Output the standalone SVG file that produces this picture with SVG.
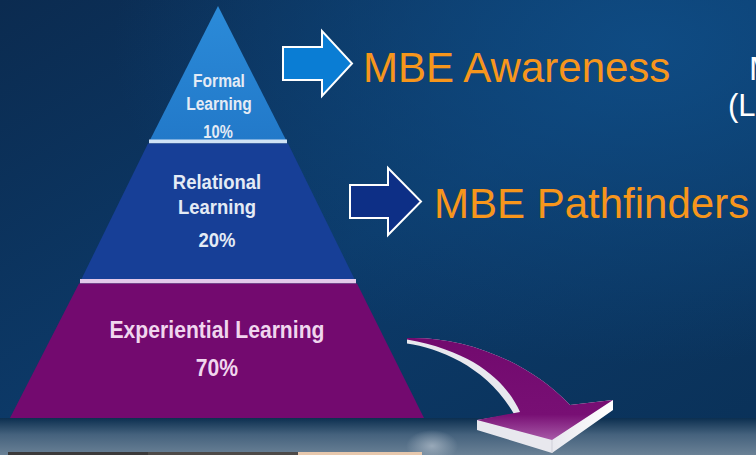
<svg xmlns="http://www.w3.org/2000/svg" width="756" height="455" viewBox="0 0 756 455">
  <defs>
    <linearGradient id="bg" x1="0" y1="0" x2="1" y2="1">
      <stop offset="0" stop-color="#0b2b50"/>
      <stop offset="0.5" stop-color="#0c3a69"/>
      <stop offset="1" stop-color="#0a3158"/>
    </linearGradient>
    <radialGradient id="glow" cx="0.85" cy="0.1" r="0.7">
      <stop offset="0" stop-color="#0f4d86" stop-opacity="0.9"/>
      <stop offset="1" stop-color="#0f4d86" stop-opacity="0"/>
    </radialGradient>
    <linearGradient id="floor" x1="0" y1="0" x2="0" y2="1">
      <stop offset="0" stop-color="#0c2f50"/>
      <stop offset="0.45" stop-color="#45627d"/>
      <stop offset="1" stop-color="#6a8196"/>
    </linearGradient>
    <radialGradient id="spot" cx="0.5" cy="0.5" r="0.5">
      <stop offset="0" stop-color="#a8b6c4" stop-opacity="0.8"/>
      <stop offset="1" stop-color="#a8b6c4" stop-opacity="0"/>
    </radialGradient>
    <linearGradient id="t1" x1="0" y1="0" x2="0" y2="1">
      <stop offset="0" stop-color="#2b8bd9"/>
      <stop offset="1" stop-color="#2279c9"/>
    </linearGradient>
    <linearGradient id="head" gradientUnits="userSpaceOnUse" x1="0" y1="338" x2="0" y2="440">
      <stop offset="0" stop-color="#720a6e"/>
      <stop offset="0.75" stop-color="#780f74"/>
      <stop offset="1" stop-color="#a85aa8"/>
    </linearGradient>
    <linearGradient id="side" gradientUnits="userSpaceOnUse" x1="552" y1="0" x2="613" y2="0">
      <stop offset="0" stop-color="#e8e8ee"/>
      <stop offset="1" stop-color="#ffffff"/>
    </linearGradient>
    <style>
      .tier { font-family: "Liberation Sans", Arial, sans-serif; font-weight: bold; text-anchor: middle; }
      .blue { fill: #e4ebf5; }
      .pink { fill: #f0d6ee; }
      .big { font-family: "Liberation Sans", Arial, sans-serif; font-size: 42px; fill: #f7961c; }
      .edge { font-family: "Liberation Sans", Arial, sans-serif; fill: #ffffff; }
      .block { stroke: #ffffff; stroke-width: 2; stroke-linejoin: miter; }
    </style>
  </defs>

  <!-- background -->
  <rect x="0" y="0" width="756" height="455" fill="url(#bg)"/>
  <rect x="0" y="0" width="756" height="455" fill="url(#glow)"/>
  <rect x="0" y="418" width="756" height="37" fill="url(#floor)"/>
  <ellipse cx="432" cy="446" rx="26" ry="16" fill="url(#spot)"/>
  <g id="photo-strip">
    <rect x="8" y="452" width="140" height="3" fill="#3b3a3a"/>
    <rect x="148" y="452" width="150" height="3" fill="#4d4a48"/>
    <rect x="298" y="452" width="124" height="3" fill="#e7c8ad"/>
  </g>

  <!-- pyramid -->
  <g id="tier-formal">
    <polygon points="218,6 286,140 150,140" fill="url(#t1)"/>
    <text class="tier blue" font-size="19" transform="translate(219,87) scale(0.82,1)">Formal</text>
    <text class="tier blue" font-size="19" transform="translate(219,110) scale(0.82,1)">Learning</text>
    <text class="tier blue" font-size="18" transform="translate(218,138) scale(0.82,1)">10%</text>
    <rect x="149" y="139.5" width="138" height="4" fill="#cfe2f5"/>
  </g>
  <g id="tier-relational">
    <polygon points="148,143.5 288,143.5 355,280 81,280" fill="#173f97"/>
    <text class="tier blue" font-size="21" transform="translate(217,189) scale(0.88,1)">Relational</text>
    <text class="tier blue" font-size="21" transform="translate(217,214) scale(0.88,1)">Learning</text>
    <text class="tier blue" font-size="21" transform="translate(217,247) scale(0.88,1)">20%</text>
    <rect x="80" y="279" width="276" height="4.5" fill="#e3c9ea"/>
  </g>
  <g id="tier-experiential">
    <polygon points="79,283.5 357,283.5 424,418 10,418" fill="#730a6f"/>
    <text class="tier pink" font-size="23" transform="translate(217,338) scale(0.92,1)">Experiential Learning</text>
    <text class="tier pink" font-size="23" transform="translate(217,376) scale(0.92,1)">70%</text>
  </g>

  <!-- connectors -->
  <g id="connectors">
    <polygon class="block" points="283,47 322,47 322,31 352,63.5 322,96 322,80 283,80" fill="#0a7dd4"/>
    <polygon class="block" points="350,185 388,185 388,168 421,201.5 388,235 388,218 350,218" fill="#0d2f86"/>
    <g id="curved-arrow">
      <path d="M407,338 L407,343.5 C440,348 488,368 514,414 L477,420 L477,430 L552,453 L613,410 L613,400 L570,405 C525,358 460,336 407,338 Z" fill="url(#side)"/>
      <path d="M407,338 C460,336 525,358 570,405 L613,400 L552,440 L477,420 L520,412 C508,385 478,352 407,339.5 Z" fill="url(#head)"/>
      <path d="M552,440 L552,453" stroke="#cfcfd8" stroke-width="1"/>
    </g>
  </g>

  <!-- labels -->
  <g id="label-awareness">
    <text class="big" x="363" y="82">MBE Awareness</text>
  </g>
  <g id="label-pathfinders">
    <text class="big" x="434" y="218">MBE Pathfinders</text>
  </g>
  <g id="label-edge">
    <text class="edge" x="749" y="80" font-size="33">M</text>
    <text class="edge" x="728" y="116" font-size="31">(L</text>
  </g>
</svg>
